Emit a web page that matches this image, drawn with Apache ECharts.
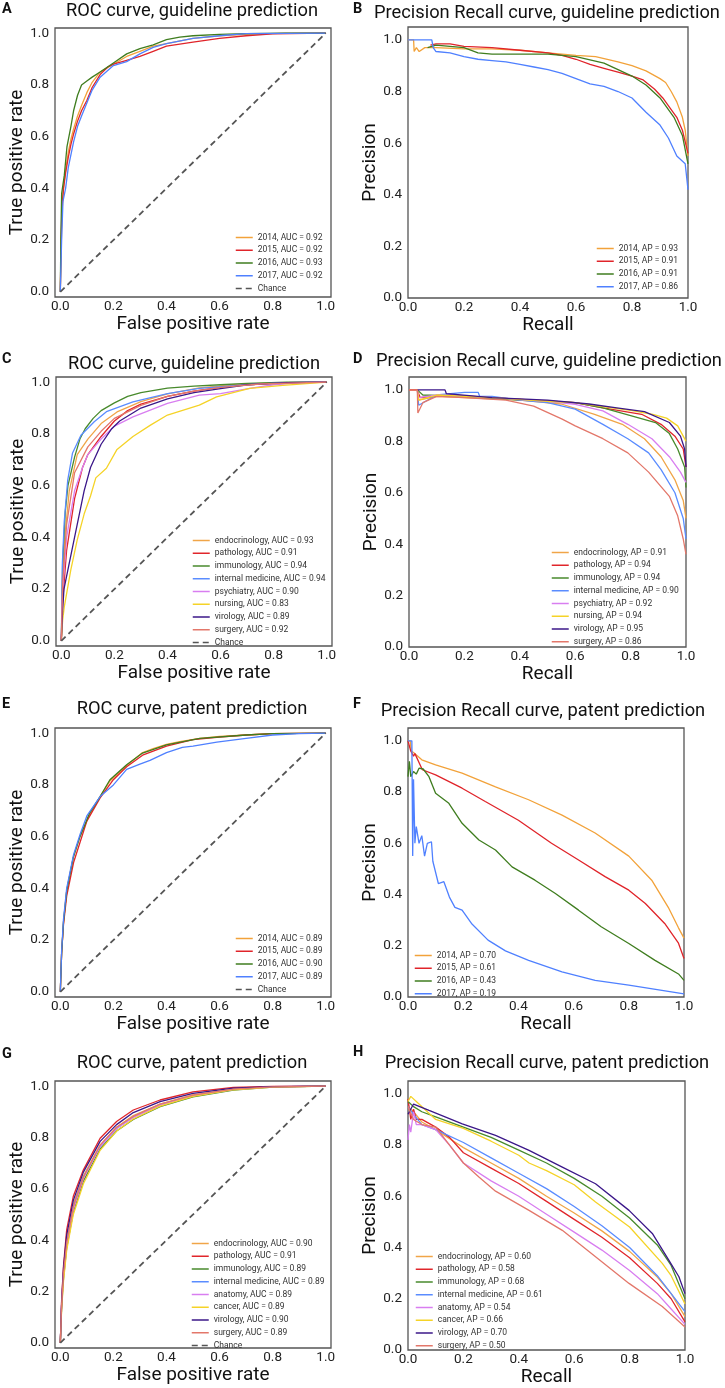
<!DOCTYPE html>
<html><head><meta charset="utf-8">
<script src="https://cdn.jsdelivr.net/npm/echarts@6/dist/echarts.min.js"></script>
<style>html,body{margin:0;padding:0;background:#fff}#c{width:725px;height:1388px}</style>
</head><body><div id="c"></div>
<script>
// ---------- tick labels ----------
const TICKS = [0, 0.2, 0.4, 0.6, 0.8, 1.0];

// ---------- Panel A: ROC, guideline prediction by year ----------
const A_labels = ['2014, AUC = 0.92','2015, AUC = 0.92','2016, AUC = 0.93','2017, AUC = 0.92'];
const A_2014 = [[0,0],[0.003,0.15],[0.006,0.3],[0.012,0.4],[0.02,0.47],[0.03,0.54],[0.04,0.59],[0.05,0.63],[0.065,0.68],[0.08,0.72],[0.1,0.77],[0.12,0.81],[0.15,0.85],[0.2,0.88],[0.25,0.91],[0.3,0.93],[0.35,0.95],[0.4,0.96],[0.5,0.98],[0.6,0.99],[0.7,0.995],[0.85,1],[1,1]];
const A_2015 = [[0,0],[0.003,0.2],[0.006,0.32],[0.012,0.4],[0.02,0.46],[0.03,0.52],[0.04,0.57],[0.05,0.61],[0.065,0.66],[0.08,0.7],[0.1,0.74],[0.12,0.79],[0.15,0.84],[0.18,0.87],[0.2,0.88],[0.25,0.895],[0.3,0.91],[0.35,0.93],[0.4,0.95],[0.5,0.965],[0.6,0.98],[0.7,0.99],[0.8,0.997],[1,1]];
const A_2016 = [[0,0],[0.002,0.2],[0.005,0.38],[0.015,0.45],[0.025,0.56],[0.04,0.64],[0.05,0.7],[0.065,0.76],[0.08,0.8],[0.1,0.815],[0.12,0.83],[0.15,0.85],[0.2,0.885],[0.25,0.92],[0.3,0.94],[0.35,0.955],[0.4,0.975],[0.45,0.985],[0.5,0.99],[0.6,0.995],[0.7,0.998],[0.85,1],[1,1]];
const A_2017 = [[0,0],[0.005,0.2],[0.01,0.35],[0.02,0.4],[0.03,0.48],[0.05,0.58],[0.065,0.64],[0.08,0.68],[0.1,0.73],[0.12,0.78],[0.15,0.83],[0.2,0.875],[0.25,0.89],[0.3,0.92],[0.35,0.945],[0.4,0.96],[0.5,0.98],[0.6,0.99],[0.7,0.998],[1,1]];

// ---------- Panel B: PR, guideline prediction by year ----------
const B_labels = ['2014, AP = 0.93','2015, AP = 0.91','2016, AP = 0.91','2017, AP = 0.86'];
const B_2014 = [[0,1],[0.02,1],[0.022,0.955],[0.03,0.97],[0.04,0.955],[0.06,0.97],[0.1,0.97],[0.2,0.965],[0.3,0.965],[0.4,0.96],[0.5,0.95],[0.6,0.94],[0.67,0.935],[0.75,0.915],[0.8,0.9],[0.85,0.88],[0.9,0.85],[0.92,0.835],[0.94,0.8],[0.96,0.76],[0.98,0.7],[0.99,0.65],[1,0.55]];
const B_2015 = [[0.08,0.98],[0.1,0.985],[0.15,0.985],[0.2,0.975],[0.3,0.97],[0.4,0.96],[0.5,0.95],[0.55,0.94],[0.6,0.925],[0.65,0.905],[0.7,0.89],[0.75,0.875],[0.8,0.86],[0.84,0.845],[0.88,0.81],[0.91,0.775],[0.94,0.73],[0.96,0.7],[0.98,0.65],[1,0.56]];
const B_2016 = [[0.07,0.97],[0.1,0.98],[0.15,0.975],[0.2,0.97],[0.25,0.95],[0.3,0.945],[0.4,0.945],[0.5,0.945],[0.6,0.935],[0.7,0.91],[0.75,0.885],[0.8,0.86],[0.85,0.825],[0.9,0.775],[0.95,0.7],[0.98,0.63],[1,0.52]];
const B_2017 = [[0,1],[0.085,1],[0.09,0.97],[0.1,0.955],[0.15,0.95],[0.2,0.935],[0.25,0.925],[0.3,0.92],[0.35,0.915],[0.4,0.905],[0.45,0.895],[0.5,0.885],[0.55,0.87],[0.6,0.85],[0.65,0.83],[0.7,0.82],[0.75,0.8],[0.8,0.775],[0.85,0.72],[0.9,0.67],[0.93,0.62],[0.96,0.55],[0.99,0.52],[1,0.42]];

// ---------- Panel C: ROC, guideline prediction by subject ----------
const C_labels = ['endocrinology, AUC = 0.93','pathology, AUC = 0.91','immunology, AUC = 0.94','internal medicine, AUC = 0.94','psychiatry, AUC = 0.90','nursing, AUC = 0.83','virology, AUC = 0.89','surgery, AUC = 0.92'];
const C_endo = [[0,0],[0.005,0.25],[0.015,0.42],[0.03,0.58],[0.06,0.72],[0.1,0.78],[0.15,0.84],[0.21,0.885],[0.3,0.925],[0.4,0.955],[0.52,0.978],[0.65,0.99],[0.8,0.997],[1,1]];
const C_path = [[0,0],[0.005,0.15],[0.02,0.35],[0.05,0.55],[0.08,0.67],[0.1,0.72],[0.15,0.79],[0.2,0.85],[0.25,0.89],[0.3,0.915],[0.4,0.945],[0.5,0.965],[0.6,0.98],[0.7,0.99],[0.85,0.998],[1,1]];
const C_immu = [[0,0],[0.005,0.3],[0.015,0.5],[0.025,0.6],[0.05,0.71],[0.07,0.78],[0.09,0.82],[0.12,0.86],[0.15,0.89],[0.2,0.92],[0.25,0.945],[0.3,0.96],[0.4,0.977],[0.5,0.985],[0.6,0.99],[0.7,0.995],[0.85,1],[1,1]];
const C_intm = [[0,0],[0.004,0.3],[0.011,0.46],[0.024,0.62],[0.042,0.725],[0.074,0.795],[0.124,0.847],[0.17,0.886],[0.27,0.924],[0.4,0.956],[0.52,0.976],[0.7,0.99],[0.85,0.998],[1,1]];
const C_psyc = [[0,0],[0.005,0.2],[0.02,0.4],[0.05,0.58],[0.08,0.67],[0.1,0.72],[0.15,0.78],[0.2,0.83],[0.27,0.866],[0.4,0.918],[0.52,0.95],[0.6,0.956],[0.71,0.976],[0.8,0.99],[0.9,0.998],[1,1]];
const C_nurs = [[0,0],[0.005,0.08],[0.011,0.13],[0.036,0.275],[0.06,0.39],[0.086,0.49],[0.11,0.56],[0.13,0.63],[0.17,0.667],[0.21,0.74],[0.27,0.79],[0.336,0.834],[0.4,0.873],[0.52,0.911],[0.585,0.943],[0.71,0.976],[0.835,0.988],[1,1]];
const C_viro = [[0,0],[0.005,0.12],[0.01,0.2],[0.03,0.3],[0.06,0.45],[0.086,0.58],[0.11,0.67],[0.15,0.76],[0.19,0.82],[0.22,0.85],[0.3,0.9],[0.4,0.935],[0.5,0.96],[0.6,0.975],[0.7,0.99],[0.85,0.998],[1,1]];
const C_surg = [[0,0],[0.005,0.22],[0.02,0.45],[0.05,0.65],[0.1,0.75],[0.15,0.81],[0.2,0.86],[0.25,0.885],[0.3,0.91],[0.4,0.945],[0.5,0.965],[0.6,0.98],[0.75,0.993],[1,1]];

// ---------- Panel D: PR, guideline prediction by subject ----------
const D_labels = ['endocrinology, AP = 0.91','pathology, AP = 0.94','immunology, AP = 0.94','internal medicine, AP = 0.90','psychiatry, AP = 0.92','nursing, AP = 0.94','virology, AP = 0.95','surgery, AP = 0.86'];
const D_endo = [[0,1],[0.03,1],[0.035,0.96],[0.1,0.975],[0.2,0.97],[0.4,0.96],[0.55,0.945],[0.67,0.905],[0.77,0.866],[0.85,0.81],[0.91,0.74],[0.96,0.65],[0.99,0.57],[1,0.5]];
const D_path = [[0,1],[0.03,1],[0.04,0.97],[0.15,0.98],[0.3,0.97],[0.45,0.96],[0.6,0.95],[0.7,0.93],[0.84,0.905],[0.91,0.866],[0.96,0.82],[0.99,0.77],[1,0.7]];
const D_immu = [[0.03,1],[0.05,0.98],[0.2,0.975],[0.4,0.96],[0.6,0.95],[0.7,0.93],[0.8,0.9],[0.89,0.873],[0.94,0.83],[0.97,0.77],[0.995,0.7],[1,0.62]];
const D_intm = [[0.03,1],[0.035,0.94],[0.1,0.98],[0.2,0.99],[0.25,0.99],[0.255,0.975],[0.3,0.975],[0.4,0.96],[0.5,0.95],[0.6,0.925],[0.7,0.866],[0.79,0.81],[0.865,0.755],[0.91,0.69],[0.96,0.6],[0.99,0.5],[1,0.42]];
const D_psyc = [[0.03,1],[0.035,0.97],[0.1,0.98],[0.3,0.97],[0.5,0.955],[0.6,0.944],[0.7,0.918],[0.79,0.866],[0.877,0.81],[0.94,0.74],[0.98,0.68],[1,0.64]];
const D_nurs = [[0.03,1],[0.035,0.96],[0.1,0.98],[0.3,0.97],[0.5,0.955],[0.6,0.95],[0.7,0.935],[0.8,0.92],[0.88,0.905],[0.93,0.89],[0.97,0.86],[0.99,0.82],[1,0.8]];
const D_viro = [[0.03,1],[0.13,1],[0.135,0.985],[0.3,0.97],[0.5,0.96],[0.65,0.945],[0.75,0.93],[0.85,0.915],[0.94,0.873],[0.98,0.82],[0.995,0.77],[1,0.7]];
const D_surg = [[0,1],[0.03,1],[0.032,0.91],[0.05,0.95],[0.1,0.975],[0.2,0.97],[0.35,0.96],[0.45,0.937],[0.553,0.886],[0.6,0.86],[0.7,0.81],[0.79,0.755],[0.865,0.68],[0.94,0.586],[0.97,0.51],[0.99,0.42],[1,0.36]];

// ---------- Panel E: ROC, patent prediction by year ----------
const E_labels = ['2014, AUC = 0.89','2015, AUC = 0.89','2016, AUC = 0.90','2017, AUC = 0.89'];
const E_2014 = [[0,0],[0.005,0.15],[0.012,0.27],[0.024,0.39],[0.049,0.52],[0.074,0.6],[0.11,0.685],[0.15,0.755],[0.187,0.815],[0.25,0.875],[0.31,0.925],[0.35,0.94],[0.4,0.957],[0.45,0.967],[0.526,0.98],[0.6,0.988],[0.7,0.993],[0.8,0.998],[1,1]];
const E_2015 = [[0,0],[0.005,0.15],[0.012,0.26],[0.024,0.37],[0.05,0.5],[0.075,0.58],[0.1,0.66],[0.15,0.75],[0.2,0.82],[0.25,0.87],[0.31,0.915],[0.4,0.95],[0.5,0.975],[0.6,0.985],[0.7,0.993],[0.8,0.998],[1,1]];
const E_2016 = [[0,0],[0.005,0.15],[0.012,0.27],[0.024,0.39],[0.049,0.52],[0.074,0.6],[0.11,0.69],[0.15,0.755],[0.187,0.82],[0.25,0.878],[0.31,0.923],[0.4,0.955],[0.526,0.98],[0.7,0.993],[0.8,0.998],[1,1]];
const E_2017 = [[0,0],[0.005,0.16],[0.012,0.28],[0.024,0.4],[0.05,0.53],[0.075,0.61],[0.1,0.68],[0.15,0.755],[0.2,0.8],[0.25,0.86],[0.3,0.88],[0.338,0.895],[0.4,0.925],[0.46,0.945],[0.5,0.95],[0.59,0.965],[0.7,0.98],[0.8,0.993],[0.9,0.998],[1,1]];

// ---------- Panel F: PR, patent prediction by year ----------
const F_labels = ['2014, AP = 0.70','2015, AP = 0.61','2016, AP = 0.43','2017, AP = 0.19'];
const F_2014 = [[0,1],[0.008,1],[0.012,0.96],[0.02,0.954],[0.05,0.926],[0.1,0.906],[0.196,0.874],[0.317,0.82],[0.437,0.77],[0.558,0.71],[0.678,0.64],[0.8,0.55],[0.883,0.456],[0.943,0.35],[0.98,0.27],[1,0.23]];
const F_2015 = [[0,1],[0.005,1],[0.01,0.96],[0.02,0.94],[0.025,0.95],[0.052,0.887],[0.1,0.867],[0.196,0.815],[0.28,0.763],[0.4,0.69],[0.52,0.6],[0.618,0.535],[0.714,0.47],[0.8,0.417],[0.86,0.365],[0.93,0.287],[0.98,0.21],[1,0.15]];
const F_2016 = [[0,0.86],[0.005,0.92],[0.01,0.86],[0.02,0.88],[0.03,0.87],[0.04,0.893],[0.055,0.89],[0.076,0.86],[0.1,0.795],[0.148,0.756],[0.196,0.678],[0.257,0.613],[0.317,0.574],[0.377,0.508],[0.46,0.456],[0.534,0.404],[0.618,0.339],[0.7,0.274],[0.8,0.209],[0.895,0.143],[0.98,0.09],[1,0.065]];
const F_2017 = [[0,1],[0.014,1],[0.017,0.55],[0.02,0.85],[0.025,0.6],[0.03,0.665],[0.04,0.6],[0.05,0.63],[0.06,0.55],[0.07,0.6],[0.085,0.606],[0.09,0.53],[0.11,0.443],[0.13,0.45],[0.15,0.39],[0.17,0.35],[0.196,0.339],[0.23,0.287],[0.29,0.222],[0.353,0.18],[0.437,0.143],[0.558,0.098],[0.678,0.065],[0.8,0.046],[0.92,0.026],[1,0.012]];

// ---------- Panel G: ROC, patent prediction by subject ----------
const G_labels = ['endocrinology, AUC = 0.90','pathology, AUC = 0.91','immunology, AUC = 0.89','internal medicine, AUC = 0.89','anatomy, AUC = 0.89','cancer, AUC = 0.89','virology, AUC = 0.90','surgery, AUC = 0.89'];
const G_endo = [[0,0],[0.005,0.15],[0.012,0.27],[0.024,0.4],[0.049,0.54],[0.087,0.65],[0.15,0.77],[0.212,0.84],[0.275,0.885],[0.376,0.93],[0.5,0.966],[0.652,0.988],[0.8,0.997],[1,1]];
const G_path = [[0,0],[0.005,0.17],[0.012,0.3],[0.024,0.44],[0.049,0.571],[0.087,0.674],[0.15,0.797],[0.212,0.862],[0.275,0.907],[0.376,0.946],[0.5,0.978],[0.652,0.995],[0.8,0.999],[1,1]];
const G_immu = [[0,0],[0.005,0.14],[0.012,0.25],[0.024,0.37],[0.049,0.51],[0.087,0.63],[0.15,0.755],[0.212,0.825],[0.275,0.87],[0.376,0.92],[0.5,0.958],[0.652,0.985],[0.8,0.996],[1,1]];
const G_intm = [[0,0],[0.005,0.15],[0.012,0.27],[0.024,0.39],[0.049,0.53],[0.087,0.645],[0.15,0.765],[0.212,0.835],[0.275,0.88],[0.376,0.928],[0.5,0.962],[0.652,0.987],[0.8,0.997],[1,1]];
const G_anat = [[0,0],[0.005,0.15],[0.012,0.26],[0.024,0.38],[0.049,0.52],[0.087,0.64],[0.15,0.765],[0.212,0.835],[0.275,0.878],[0.376,0.926],[0.5,0.962],[0.652,0.987],[0.8,0.997],[1,1]];
const G_canc = [[0,0],[0.005,0.13],[0.012,0.24],[0.024,0.36],[0.049,0.5],[0.087,0.62],[0.15,0.75],[0.212,0.825],[0.275,0.872],[0.376,0.922],[0.5,0.96],[0.652,0.986],[0.8,0.996],[1,1]];
const G_viro = [[0,0],[0.005,0.16],[0.012,0.29],[0.024,0.42],[0.049,0.555],[0.087,0.665],[0.15,0.785],[0.212,0.85],[0.275,0.897],[0.376,0.94],[0.5,0.972],[0.652,0.992],[0.8,0.998],[1,1]];
const G_surg = [[0,0],[0.005,0.15],[0.012,0.27],[0.024,0.39],[0.049,0.53],[0.087,0.645],[0.15,0.77],[0.212,0.84],[0.275,0.882],[0.376,0.93],[0.5,0.965],[0.652,0.988],[0.8,0.997],[1,1]];

// ---------- Panel H: PR, patent prediction by subject ----------
const H_labels = ['endocrinology, AP = 0.60','pathology, AP = 0.58','immunology, AP = 0.68','internal medicine, AP = 0.61','anatomy, AP = 0.54','cancer, AP = 0.66','virology, AP = 0.70','surgery, AP = 0.50'];
const H_endo = [[0,0.95],[0.02,0.93],[0.05,0.89],[0.1,0.86],[0.2,0.79],[0.3,0.73],[0.4,0.67],[0.5,0.6],[0.6,0.535],[0.7,0.465],[0.8,0.385],[0.9,0.285],[0.95,0.22],[1,0.13]];
const H_path = [[0,0.98],[0.01,0.9],[0.02,0.94],[0.03,0.9],[0.05,0.9],[0.1,0.87],[0.15,0.83],[0.2,0.77],[0.3,0.71],[0.4,0.65],[0.5,0.58],[0.6,0.51],[0.7,0.44],[0.8,0.36],[0.9,0.26],[0.95,0.2],[1,0.11]];
const H_immu = [[0,0.97],[0.02,0.95],[0.05,0.93],[0.1,0.91],[0.2,0.87],[0.3,0.83],[0.4,0.78],[0.5,0.73],[0.6,0.67],[0.7,0.6],[0.8,0.515],[0.9,0.41],[0.95,0.33],[1,0.2]];
const H_intm = [[0,0.95],[0.02,0.92],[0.05,0.88],[0.1,0.86],[0.2,0.81],[0.3,0.75],[0.4,0.69],[0.5,0.63],[0.6,0.56],[0.7,0.485],[0.8,0.4],[0.9,0.29],[0.95,0.22],[1,0.15]];
const H_anat = [[0,0.82],[0.005,0.88],[0.01,0.85],[0.02,0.93],[0.03,0.88],[0.05,0.88],[0.1,0.86],[0.15,0.8],[0.2,0.73],[0.3,0.66],[0.4,0.6],[0.5,0.53],[0.6,0.46],[0.7,0.39],[0.8,0.31],[0.9,0.22],[0.95,0.16],[1,0.1]];
const H_canc = [[0,0.97],[0.01,0.99],[0.03,0.97],[0.1,0.9],[0.2,0.865],[0.3,0.815],[0.4,0.76],[0.437,0.73],[0.5,0.7],[0.6,0.645],[0.677,0.578],[0.8,0.48],[0.918,0.338],[0.95,0.29],[1,0.18]];
const H_viro = [[0,0.92],[0.02,0.96],[0.076,0.935],[0.196,0.883],[0.316,0.838],[0.437,0.779],[0.557,0.714],[0.677,0.649],[0.798,0.545],[0.882,0.455],[0.942,0.35],[0.978,0.286],[1,0.22]];
const H_surg = [[0,0.95],[0.02,0.9],[0.05,0.88],[0.1,0.87],[0.15,0.8],[0.2,0.73],[0.256,0.675],[0.316,0.62],[0.437,0.545],[0.557,0.467],[0.677,0.364],[0.798,0.26],[0.918,0.17],[1,0.09]];

// chance diagonal
const CHANCE = [[0,0],[1,1]];

// ---------- styling ----------
const FONT = 'Roboto, "DejaVu Sans", sans-serif';
const YEAR_COLORS = ['#f2a23a','#e0242a','#3f7d1f','#4f80ff'];
const SUBJ_COLORS = ['#f0a548','#e0262b','#488a2c','#5a8cff','#d87ef0','#f5d327','#3b1789','#e3776a'];

const panels = [
  {letter:'A', kind:'roc', title:'ROC curve, guideline prediction', tx:192, ty:2, lx:2, ly:2,
   grid:{left:55, top:28, width:276, height:269}, legend:{left:235, top:233},
   labels:A_labels, data:[A_2014,A_2015,A_2016,A_2017], colors:YEAR_COLORS},
  {letter:'B', kind:'pr', title:'Precision Recall curve, guideline prediction', tx:547, ty:4, lx:353, ly:2,
   grid:{left:408, top:27, width:280, height:271}, legend:{left:596, top:244},
   labels:B_labels, data:[B_2014,B_2015,B_2016,B_2017], colors:YEAR_COLORS},
  {letter:'C', kind:'roc', title:'ROC curve, guideline prediction', tx:194, ty:355, lx:2, ly:352,
   grid:{left:56, top:377, width:276, height:269}, legend:{left:192, top:536},
   labels:C_labels, data:[C_endo,C_path,C_immu,C_intm,C_psyc,C_nurs,C_viro,C_surg], colors:SUBJ_COLORS},
  {letter:'D', kind:'pr', title:'Precision Recall curve, guideline prediction', tx:549, ty:352, lx:353, ly:352,
   grid:{left:409, top:377, width:277, height:270}, legend:{left:551, top:548},
   labels:D_labels, data:[D_endo,D_path,D_immu,D_intm,D_psyc,D_nurs,D_viro,D_surg], colors:SUBJ_COLORS},
  {letter:'E', kind:'roc', title:'ROC curve, patent prediction', tx:192, ty:700, lx:2, ly:697,
   grid:{left:55, top:728, width:276, height:269}, legend:{left:235, top:934},
   labels:E_labels, data:[E_2014,E_2015,E_2016,E_2017], colors:YEAR_COLORS},
  {letter:'F', kind:'pr', title:'Precision Recall curve, patent prediction', tx:543, ty:702, lx:353, ly:697,
   grid:{left:408, top:728, width:276, height:269}, legend:{left:414, top:951},
   labels:F_labels, data:[F_2014,F_2015,F_2016,F_2017], colors:YEAR_COLORS},
  {letter:'G', kind:'roc', title:'ROC curve, patent prediction', tx:192, ty:1054, lx:2, ly:1047,
   grid:{left:55, top:1081, width:276, height:267}, legend:{left:191, top:1239},
   labels:G_labels, data:[G_endo,G_path,G_immu,G_intm,G_anat,G_canc,G_viro,G_surg], colors:SUBJ_COLORS},
  {letter:'H', kind:'pr', title:'Precision Recall curve, patent prediction', tx:547, ty:1054, lx:353, ly:1045,
   grid:{left:408, top:1081, width:277, height:269}, legend:{left:415, top:1252},
   labels:H_labels, data:[H_endo,H_path,H_immu,H_intm,H_anat,H_canc,H_viro,H_surg], colors:SUBJ_COLORS}
];

const option = {animation:false, backgroundColor:'#fff', title:[], grid:[], xAxis:[], yAxis:[], legend:[], series:[]};

panels.forEach((p, i) => {
  const roc = p.kind === 'roc';
  option.title.push({text:p.title, left:p.tx, top:p.ty, textAlign:'center', padding:0,
    textStyle:{fontFamily:FONT, fontSize:18.3, fontWeight:'normal', color:'#111'}});
  option.title.push({text:p.letter, left:p.lx, top:p.ly, padding:0,
    textStyle:{fontFamily:FONT, fontSize:14.5, fontWeight:'bold', color:'#111'}});
  option.grid.push(Object.assign({show:true, borderColor:'#555', borderWidth:1.3, backgroundColor:'transparent', containLabel:false}, p.grid));
  const labelStyle = {fontFamily:FONT, fontSize:13.5, color:'#222', customValues:TICKS, formatter:v => v.toFixed(1)};
  option.xAxis.push({type:'value', gridIndex:i, min:roc?-0.02:0, max:roc?1.02:1,
    name: roc ? 'False positive rate' : 'Recall', nameLocation:'middle', nameGap:17,
    nameTextStyle:{fontFamily:FONT, fontSize:19, color:'#111'},
    axisLine:{show:false}, axisTick:{show:false}, splitLine:{show:false},
    axisLabel:Object.assign({margin:3}, labelStyle)});
  option.yAxis.push({type:'value', gridIndex:i, min:roc?-0.02:0, max:roc?1.02:1.05,
    name: roc ? 'True positive rate' : 'Precision', nameLocation:'middle', nameGap:27,
    nameTextStyle:{fontFamily:FONT, fontSize:19, color:'#111'},
    axisLine:{show:false}, axisTick:{show:false}, splitLine:{show:false},
    axisLabel:Object.assign({margin:6}, labelStyle)});
  const names = p.labels.slice();
  p.data.forEach((d, k) => {
    option.series.push({type:'line', name:p.labels[k], xAxisIndex:i, yAxisIndex:i, data:d,
      symbol:'none', showSymbol:false, silent:true,
      lineStyle:{width:1.3, color:p.colors[k]}, itemStyle:{color:p.colors[k]}});
  });
  if (roc) {
    names.push('Chance');
    option.series.push({type:'line', name:'Chance', xAxisIndex:i, yAxisIndex:i, data:CHANCE,
      symbol:'none', showSymbol:false, silent:true,
      lineStyle:{width:1.8, color:'#555', type:[6,4]}, itemStyle:{color:'#555'}});
  }
  option.legend.push({left:p.legend.left, top:p.legend.top, orient:'vertical', padding:0,
    itemWidth:17, itemHeight:8, itemGap:3.75, selectedMode:false, data:names,
    itemStyle:{opacity:0, borderWidth:0},
    lineStyle:{width:1.5},
    textStyle:{fontFamily:FONT, fontSize:8.5, color:'#333', lineHeight:8}});
});

const chart = echarts.init(document.getElementById('c'), null, {renderer:'canvas'});
chart.setOption(option);
</script>
</body></html>
